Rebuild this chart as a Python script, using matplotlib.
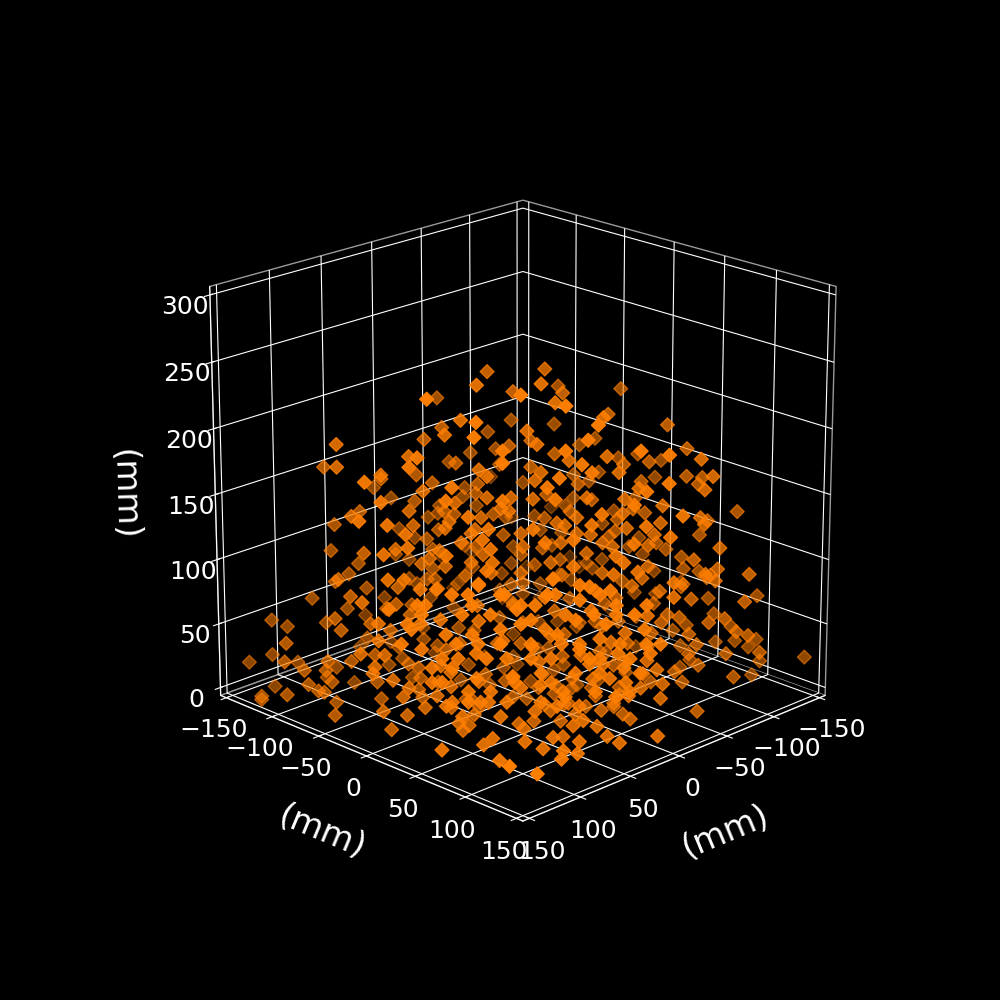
import matplotlib
matplotlib.use("Agg")
import matplotlib.pyplot as plt

# posicoes em mm, por regiao
x_esq = [18,53,107,14,5,61,83,-24,41,69,84,-12,123,50,70,-16,7,87,112,-3,101,123,116,8,34,52,70,-18,54,101,72,138,47,46,48,95,0,23,80,130,38,55,87,98,1,24,48,70,13,40,116,83,141,-6,15,37,87,14,35,67,127,34,96,85,118,19,43,54,77,-21,10,56,80,26,49,94,129,36,98,110,117,29,46,72,98,0,24,50,76,-25,84,81,75,-4,46,69,78,-24,89,123,96,127,29,45,59,82,-19,80,93,103,4,6]
y_esq = [-18,7,13,-74,-5,-1,37,-36,-41,-9,36,-48,-63,-50,50,-44,-7,-27,8,-57,-101,-63,4,-68,-34,8,50,-42,-54,-41,-72,-18,-107,-46,12,25,-60,-23,-20,-10,-98,-55,-27,22,-61,-24,12,50,-73,-40,-56,-83,-21,-54,-15,23,33,-74,-35,-7,-7,-94,-96,-25,2,-79,-43,6,43,-39,-10,4,40,-86,-49,-34,-9,-96,-98,-50,3,-89,-46,-12,22,-60,-24,10,44,-35,-84,-21,45,-56,-46,-9,42,-36,-89,-63,-96,-7,-89,-45,1,38,-41,-80,-33,17,-64,-6]
z_esq = [243,247,251,209,228,221,234,192,201,210,223,183,203,192,213,170,187,194,208,167,171,186,201,160,174,184,204,158,165,180,162,190,140,159,179,186,140,158,168,175,132,145,153,176,133,151,163,176,126,137,149,137,161,126,135,153,164,120,135,145,158,108,127,142,151,117,123,139,155,117,119,136,147,101,116,124,136,88,107,121,141,84,108,123,135,95,110,120,140,94,97,113,130,78,93,111,124,81,89,101,83,117,69,85,104,114,73,78,95,110,65,81]

x_dir = [-11,21,61,-48,-20,14,39,-80,-43,-10,23,-46,-73,28,28,-67,-4,23,39,-59,-16,-12,2,-89,-83,-59,-12,-101,-64,7,31,-79,-51,-18,26,-69,-4,21,42,-56,-83,-65,-91,-12,-98,-60,-28,-1,-89,-61,-64,-28,24,48,-30,-12,25,44,-56,-35,-21,5,-88,-56,-40,-109,-19,-59]
y_dir = [11,39,59,-12,20,46,81,20,43,70,97,-14,73,32,92,7,4,37,81,-1,16,72,118,29,83,119,132,41,64,53,89,19,51,78,94,9,4,39,78,-4,83,125,91,132,38,60,88,121,89,121,4,28,36,72,-30,12,35,76,-4,35,81,115,28,56,100,109,139,119]
z_dir = [245,248,254,218,227,234,246,216,211,223,232,189,203,213,221,178,191,203,213,173,181,194,213,166,185,192,210,161,175,191,203,163,173,182,197,152,171,182,193,150,164,179,163,189,148,160,170,183,158,169,145,158,176,186,144,150,162,177,132,146,162,173,132,139,157,137,165,148]

x_meio = [-94,-61,-52,-24,3,21,-77,-62,-39,-1,-36,-11,9,26,-71,-48,-22,55,-39,-47,-4,35,-50,-44,-36,-13,-90,-90,-68,-33,49,-45,-10,-15,5,-85,-73,-69,14,-92,-81,-56,10,-71,-19,16,35,-63,-6,-33,-82,-68,3,-98,-90,-84,15,-66,-20,15,-94,-67,-15,-112,-51,-25,27,-55,-81,-39,24,-39,1,30]
y_meio = [94,121,-8,24,57,99,17,62,99,121,-24,11,51,94,11,48,82,65,-21,47,64,85,-10,44,96,133,90,30,68,93,71,-15,10,75,115,25,73,129,106,32,81,116,110,11,19,44,85,3,6,93,82,128,117,38,90,144,105,6,20,45,94,127,135,52,51,85,93,-5,81,99,96,-21,-1,30]
z_meio = [130,143,126,137,148,166,122,136,144,157,118,132,142,158,112,131,140,155,107,122,135,147,105,118,135,149,119,101,113,127,145,95,109,126,144,94,108,125,135,88,102,116,130,84,100,114,127,81,96,111,93,109,123,75,91,105,121,77,88,101,86,100,115,66,83,96,112,68,79,92,109,65,104,126]

x_base_esq = [108,117,140,90,125,52,101,122,129,121,150,129,141,150,116,141,129,96,130,101,127,139,128,150,134,131,149,150,123,140,87,117,141,55,80,107,132,42,70,94,119,25,49,73,111,18,57,87,111,22,51,97,132,39,64,105,129,62,88,134,69,83,135,104,125,57,82,117,83,120,81,102,130,118,109,126,103,73,101,16,44,69,96,28,62,101,6,33,53,82,-10,25,43,70,-25,12,35,82,-18,96,32,49,82,17,39,65,-25,10]
y_base_esq = [-108,-57,-20,-90,-65,-112,-101,-62,-129,-121,-90,-129,-141,-92,-116,-81,-69,-96,-70,-101,-67,-79,-128,-90,-74,-71,-119,-118,-67,-50,-87,-57,-21,-115,-80,-47,-12,-102,-70,-34,1,-85,-49,-13,9,-78,-57,-27,9,-82,-51,-37,-12,-99,-64,-45,-9,-62,-28,-14,-69,-23,-15,-44,-5,-57,-22,3,-23,0,-21,-42,-10,2,11,-6,17,-13,19,-76,-44,-9,24,-28,-2,19,-66,-33,7,38,-50,-25,17,50,-35,-12,25,38,-42,24,-32,11,38,-17,21,55,-35,-10]
z_base_esq = [70,88,100,62,71,40,51,62,53,48,52,26,20,37,20,31,38,16,31,8,22,20,1,12,15,14,2,0,5,5,4,38,61,15,39,67,84,54,62,82,117,65,85,94,110,54,65,74,84,30,38,62,71,19,32,43,60,23,36,51,18,33,46,22,41,8,25,35,16,28,10,9,17,14,20,3,29,22,52,10,33,47,47,18,52,87,46,47,81,86,7,45,52,71,25,55,81,113,60,36,6,28,40,2,23,44,7,16]

x_frente = [58,62,58,86,77,90,99,96,41,137,107,101,115,130,66,116,89,79,73,78,86,62,68,37,38,37,16,54,14,4,-2,-5,3,-11,-9,22,18,35,40,28,52,73,23,16,9,14,-4,-28,13,51,-4,20,65,-27,-16,5,25,-39,-19,7,1,-19]
y_frente = [0,10,14,14,28,36,35,36,31,57,68,71,92,117,62,130,91,99,103,118,124,118,122,111,122,133,150,94,93,112,99,87,67,59,65,75,64,73,68,50,63,74,27,32,41,56,46,28,47,69,4,40,55,-33,16,55,95,39,79,113,119,79]
z_frente = [8,12,6,14,10,8,12,6,14,10,8,12,6,14,10,8,12,6,14,10,8,12,6,14,10,8,12,6,14,10,8,12,6,14,10,8,12,6,14,10,8,12,6,14,10,8,12,2,19,37,5,28,43,1,14,25,42,6,18,29,35,12]

x_base_dir = [-4,-9,-40,-77,-118,-51,-10,-35,0,-53,-22,-7,-47,-81,-59,-86,-54,-2,-89,-64,-16,20,-43,-9,31,-21,10,52,-38,-13,-23,16,-58,-29,9,46,-38,0,31,55,-48,-37,-10,9,-35,-89,-49,-40,-81,-58,-99,-73,-116,-90,-122,-145,-120,-84,-109,-78,-107,-72,-98,-64,-84,-49,-77,-54,-95,-82,-120,-55,-82,-15,-99,-67,-43,-2,-96,-62,-88,-42,-17,-65,26,-24,14,49,-30,0,35,45,-49]
y_base_dir = [88,129,136,137,118,111,130,95,120,53,82,127,107,81,119,86,114,122,29,64,76,100,43,69,89,21,50,68,-22,13,83,104,-2,29,51,74,-22,0,29,65,-12,37,70,111,95,29,49,100,81,118,99,133,116,150,122,145,120,144,109,138,107,132,98,124,84,109,77,114,95,142,120,115,82,135,39,67,103,122,96,122,28,42,77,5,94,24,46,71,-30,0,25,75,-11]
z_base_dir = [10,27,10,26,10,22,38,22,46,12,38,49,30,16,35,22,44,56,15,32,35,53,28,46,60,18,42,55,13,31,52,70,31,51,59,75,35,51,52,66,35,52,65,77,60,39,52,68,33,51,36,44,32,45,21,24,38,58,37,61,48,71,58,68,49,72,45,59,70,84,72,86,81,104,57,66,74,90,88,105,58,66,87,62,94,70,77,104,57,82,83,118,72]

# massa mais clara no centro, a frente
x_claro = [68,52,45,81,89,76,63,52,91,102,112,130,128,135,107,107,120,115,76,84,71,42,47,29,27,34,60,97,91,63,55,50,33,19,125,146,107,42,34,19]
y_claro = [92,108,115,79,71,84,97,108,69,58,48,30,32,25,53,53,40,45,84,76,89,118,113,131,133,126,100,63,69,97,105,110,127,141,35,14,53,118,126,141]
z_claro = [117,113,102,109,117,98,87,80,91,80,69,102,109,91,44,36,51,36,80,51,36,58,65,51,44,40,44,36,25,33,18,22,73,80,62,106,117,117,102,109]

x_nucleo = [137,130,118,110,103,96,88,81,74,66,59,52,42,34,27,20,140,132,120,113,105,98,91,83,76,69,61,54,47,39,32,25,17,12,125,118,110,103,96,88,81,74,66,59,52,44,37,30,22,115,105,91,64,52,37,115,71,54,42,101]
y_nucleo = [23,30,42,50,57,64,72,79,86,94,101,108,118,126,133,140,20,28,40,47,55,62,69,77,84,91,99,106,113,121,128,135,143,148,35,42,50,57,64,72,79,86,94,101,108,116,123,130,138,45,55,69,96,108,123,45,89,106,118,59]
z_nucleo = [95,76,87,102,73,102,69,95,109,69,102,76,84,109,69,91,80,109,69,80,87,69,80,106,69,91,80,98,69,95,80,102,73,80,51,33,25,54,44,36,47,29,51,40,33,44,54,62,58,62,109,117,117,124,120,117,58,58,69,36]

x_alto = [69,61,51,41,31,13,3,-10,-20,77,46,31,11,-2,-30,64,36,-2,56,-10]
y_alto = [-9,-1,9,19,29,47,57,70,80,-17,14,29,49,62,90,-4,24,62,4,70]
z_alto = [140,129,148,155,136,144,136,129,151,117,106,106,129,121,102,159,163,163,114,106]

# pontos escuros, ao fundo
x_fundo = [-89,-69,-53,-110,-74,-95,-63,-105,-43,-126,-82,-37]
y_fundo = [-71,-91,-107,-50,-86,-65,-97,-55,-117,-34,-78,-123]
z_fundo = [26,26,63,51,91,99,123,59,34,18,51,59]

x_mm = x_esq + x_dir + x_meio + x_base_esq + x_frente + x_base_dir + x_claro + x_nucleo + x_alto + x_fundo
y_mm = y_esq + y_dir + y_meio + y_base_esq + y_frente + y_base_dir + y_claro + y_nucleo + y_alto + y_fundo
z_mm = z_esq + z_dir + z_meio + z_base_esq + z_frente + z_base_dir + z_claro + z_nucleo + z_alto + z_fundo

ticks_xy = [-150, -100, -50, 0, 50, 100, 150]
ticks_z = [0, 50, 100, 150, 200, 250, 300]

plt.style.use("dark_background")
fig = plt.figure(figsize=(10, 10), dpi=100)
ax = fig.add_subplot(111, projection="3d")
ax.scatter(x_mm, y_mm, z_mm, c="#ff7f00", marker="D", s=50)
ax.set_xlim(-156.25, 156.25)
ax.set_ylim(-156.25, 156.25)
ax.set_zlim(-6.25, 306.25)
ax.set_xticks(ticks_xy)
ax.set_yticks(ticks_xy)
ax.set_zticks(ticks_z)
ax.set_box_aspect((1, 1, 1), zoom=0.95)
ax.tick_params(labelsize=18)
for a in (ax.xaxis, ax.yaxis, ax.zaxis):
    a.set_rotate_label(True)
    a.set_pane_color((0, 0, 0, 1))
    a.pane.set_edgecolor("#999999")
ax.set_xlabel("(mm)", fontsize=24, labelpad=20)
ax.set_ylabel("(mm)", fontsize=24, labelpad=20)
ax.set_zlabel("(mm)", fontsize=24, labelpad=22)
ax.view_init(elev=20, azim=45)
fig.savefig("out.png", dpi=100)
